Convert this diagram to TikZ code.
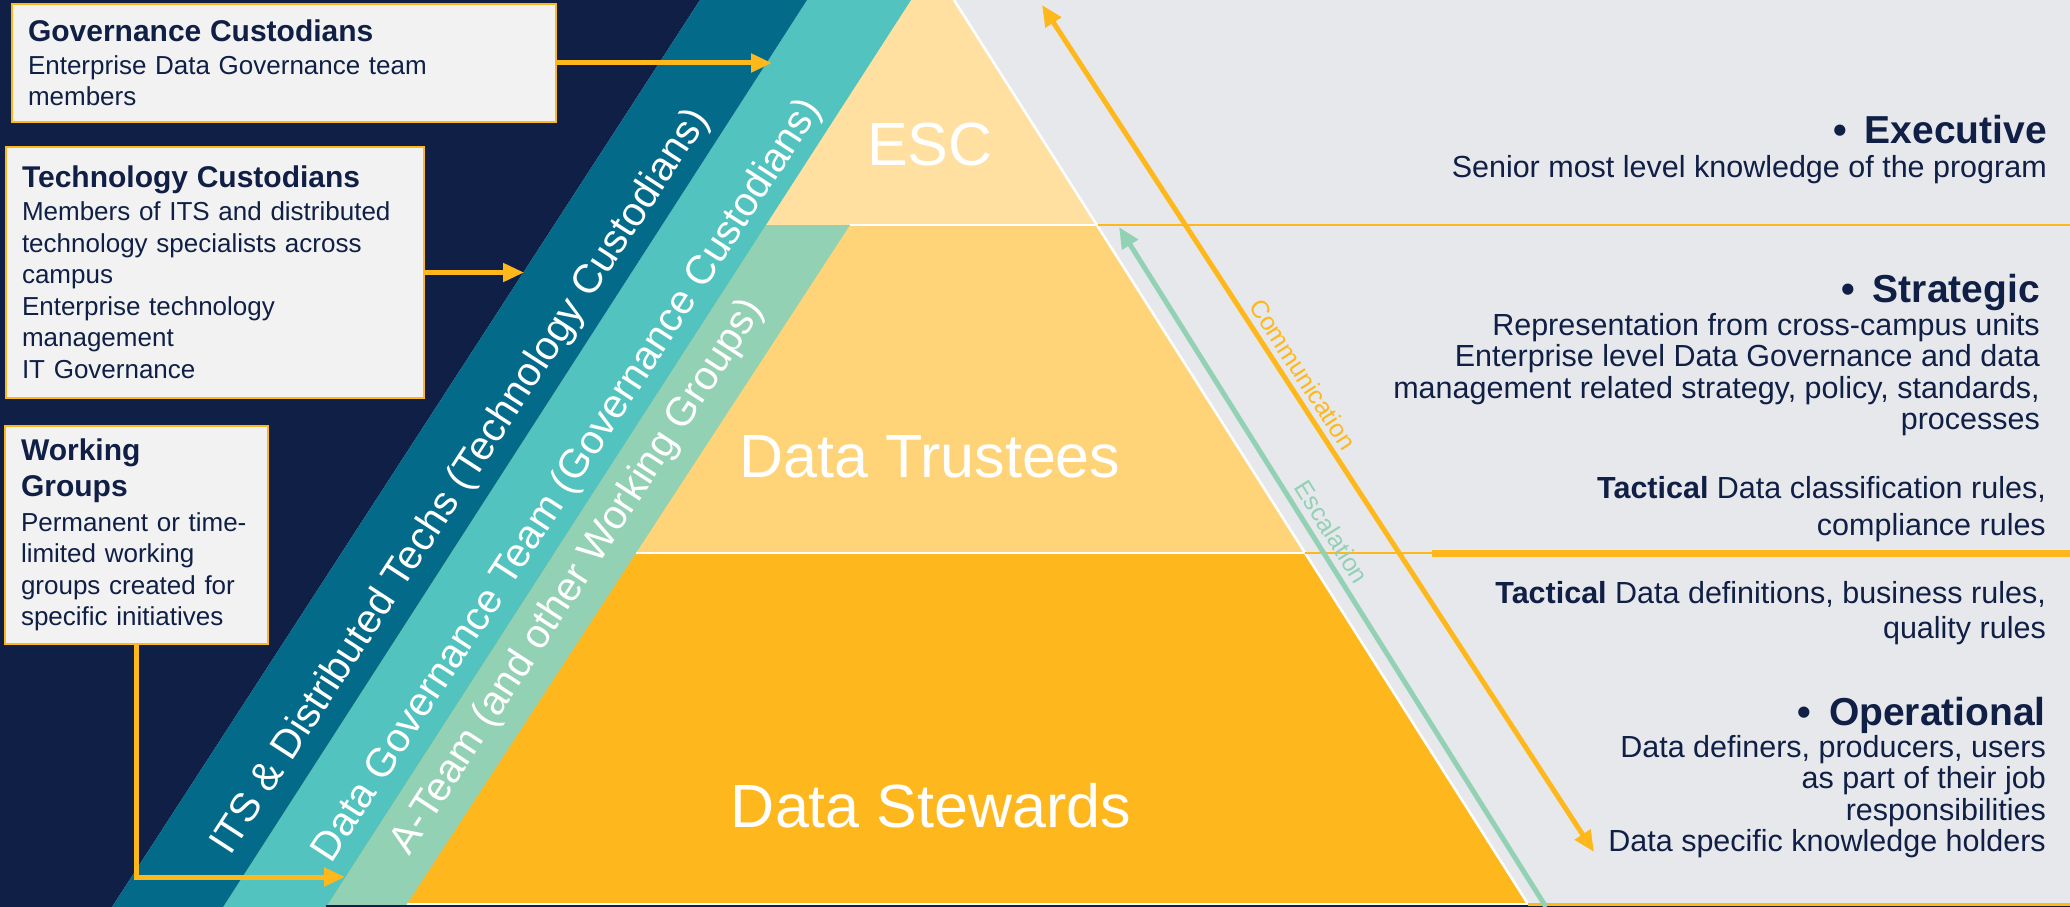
\documentclass[tikz,border=0pt]{standalone}
\usepackage{fontspec}
\setmainfont{Liberation Sans}
\usetikzlibrary{arrows.meta}
\definecolor{navy}{HTML}{101F45}
\definecolor{deepband}{HTML}{046A8A}
\definecolor{tealband}{HTML}{52C3BE}
\definecolor{mintband}{HTML}{93D1B4}
\definecolor{paper}{HTML}{E7E8EC}
\definecolor{boxfill}{HTML}{F2F2F2}
\definecolor{amber}{HTML}{FFB81C}
\definecolor{escfill}{HTML}{FFE0A0}
\definecolor{trusteefill}{HTML}{FFD479}
\definecolor{stewardfill}{HTML}{FFB71E}
\newcommand{\hd}{\fontsize{30}{34}\selectfont\bfseries}
\tikzset{
  box/.style={draw=amber, line width=2pt, fill=boxfill, inner xsep=16pt, inner ysep=0pt, align=left, text=navy, font=\fontsize{26}{31.5}\selectfont},
  arr/.style={draw=amber, line width=5pt, ->},
  band/.style={text=white, rotate=57, font=\fontsize{40.5}{44}\selectfont},
  tier/.style={text=white, anchor=base, font=\fontsize{61}{70}\selectfont},
  rh/.style={text=navy, anchor=base east, inner sep=0pt, font=\fontsize{39}{44}\selectfont\bfseries},
  rt/.style={text=navy, anchor=base east, inner sep=0pt, font=\fontsize{30.5}{32}\selectfont},
  rim/.style={draw=white, line width=2.5pt},
  rule/.style={draw=amber, line width=2pt},
  flowlab/.style={rotate=-57, font=\fontsize{25}{28}\selectfont},
}

\begin{document}
\begin{tikzpicture}[x=1pt, y=-1pt, >={Triangle[length=21pt,width=18pt]}]
  \useasboundingbox (0,0) rectangle (2070,907);
  \fill[paper] (0,0) rectangle (2070,907);
  \fill[navy] (0,0) -- (700,0) -- (112,907) -- (0,907) -- cycle;

  % pyramid
  \coordinate (topR) at (954,0);
  \coordinate (escR) at (1098,225);
  \coordinate (truR) at (1305,553);
  \coordinate (stwR) at (1528,904);
  \fill[escfill] (911,0) -- (topR) -- (escR) -- (700,225) -- cycle;
  \fill[trusteefill] (700,225) -- (escR) -- (truR) -- (400,553) -- cycle;
  \fill[stewardfill] (400,553) -- (truR) -- (1530,907) -- (200,907) -- cycle;
  \draw[rim] (topR) -- (stwR);
  \draw[rim] (850,225) -- (escR);
  \draw[rim] (636,553) -- (truR);
  \draw[rim] (405,904) -- (stwR);

  % bands
  \fill[mintband] (766,225) -- (850,225) -- (405,907) -- (326,907) -- cycle;
  \fill[tealband] (807,0) -- (911,0) -- (326,907) -- (223,907) -- cycle;
  \fill[deepband] (700,0) -- (807,0) -- (223,907) -- (112,907) -- cycle;
  \fill[navy] (326,905) rectangle (2070,907);

  % level rules
  \draw[rule] (escR) -- (2070,225);
  \draw[rule] (truR) -- (1432,553);
  \draw[amber, line width=7pt] (1432,553) -- (2070,553);
  \draw[rule, line width=3pt] (stwR) -- (2070,904);

  % communication / escalation
  \coordinate (commtop) at (1042,5);
  \coordinate (commend) at (1594,852);
  \draw[amber, line width=5pt, <->] (commtop) -- (commend);
  \node[flowlab, text=amber] (comm) at (1303,374) {Communication};
  \coordinate (escfoot) at (1546,907);
  \coordinate (esctop) at (1119,227);
  \draw[mintband, line width=5pt, ->] (escfoot) -- (esctop);
  \node[flowlab, rotate=-1, text=mintband] (escal) at (1332,532) {Escalation};

  % tiers
  \node[tier] (esc) at (930,165) {ESC};
  \node[tier] (trustees) at (930,477) {Data Trustees};
  \node[tier] (stewards) at (931,827) {Data Stewards};

  % band labels
  \node[band] (its) at (461,482) {ITS \& Distributed Techs (Technology Custodians)};
  \node[band] (dgt) at (568,481) {Data Governance Team (Governance Custodians)};
  \node[band] (ateam) at (578,577) {A-Team (and other Working Groups)};

  % custodian boxes
  \node[box, minimum width=544pt, minimum height=118pt, text width=512pt] (gov) at (284,63)
    {{\hd Governance Custodians}\\[1.5pt]Enterprise Data Governance team\\members};
  \node[box, minimum width=418pt, minimum height=251pt, text width=386pt] (tech) at (215,272.5)
    {{\hd Technology Custodians}\\[1.5pt]Members of ITS and distributed\\technology specialists across\\campus\\Enterprise technology\\management\\IT Governance};
  \node[box, minimum width=263pt, minimum height=218pt, text width=231pt] (wg) at (136.5,535)
    {{\hd Working}\\[4.5pt]{\hd Groups}\\[3.5pt]Permanent or time-\\limited working\\groups created for\\specific initiatives};
  \coordinate (govtip) at (772,63);
  \coordinate (techtip) at (524,272.5);
  \coordinate (wgtip) at (345,877);
  \draw[arr] (gov.east) -- (govtip);
  \draw[arr] (tech.east) -- (techtip);
  \draw[arr] (wg.south) |- (wgtip);

  % levels text
  \node[rh] (exec) at (2047,143) {•\hspace{0.45em}Executive};
  \node[rt] (exec1) at (2047,177) {Senior most level knowledge of the program};
  \node[rh] (strat) at (2040,302) {•\hspace{0.45em}Strategic};
  \node[rt] (strat1) at (2040,335) {Representation from cross-campus units};
  \node[rt] (strat2) at (2040,366.5) {Enterprise level Data Governance and data};
  \node[rt] (strat3) at (2040,398) {management related strategy, policy, standards,};
  \node[rt] (strat4) at (2040,429.5) {processes};
  \node[rt] (tacta1) at (2046,498) {{\bfseries Tactical} Data classification rules,};
  \node[rt] (tacta2) at (2046,535) {compliance rules};
  \node[rt] (tactb1) at (2046,603) {{\bfseries Tactical} Data definitions, business rules,};
  \node[rt] (tactb2) at (2046,638) {quality rules};
  \node[rh] (oper) at (2046,725) {•\hspace{0.45em}Operational};
  \node[rt] (oper1) at (2046,757) {Data definers, producers, users};
  \node[rt] (oper2) at (2046,788.5) {as part of their job};
  \node[rt] (oper3) at (2046,820) {responsibilities};
  \node[rt] (oper4) at (2046,851.5) {Data specific knowledge holders};
\end{tikzpicture}
\end{document}
